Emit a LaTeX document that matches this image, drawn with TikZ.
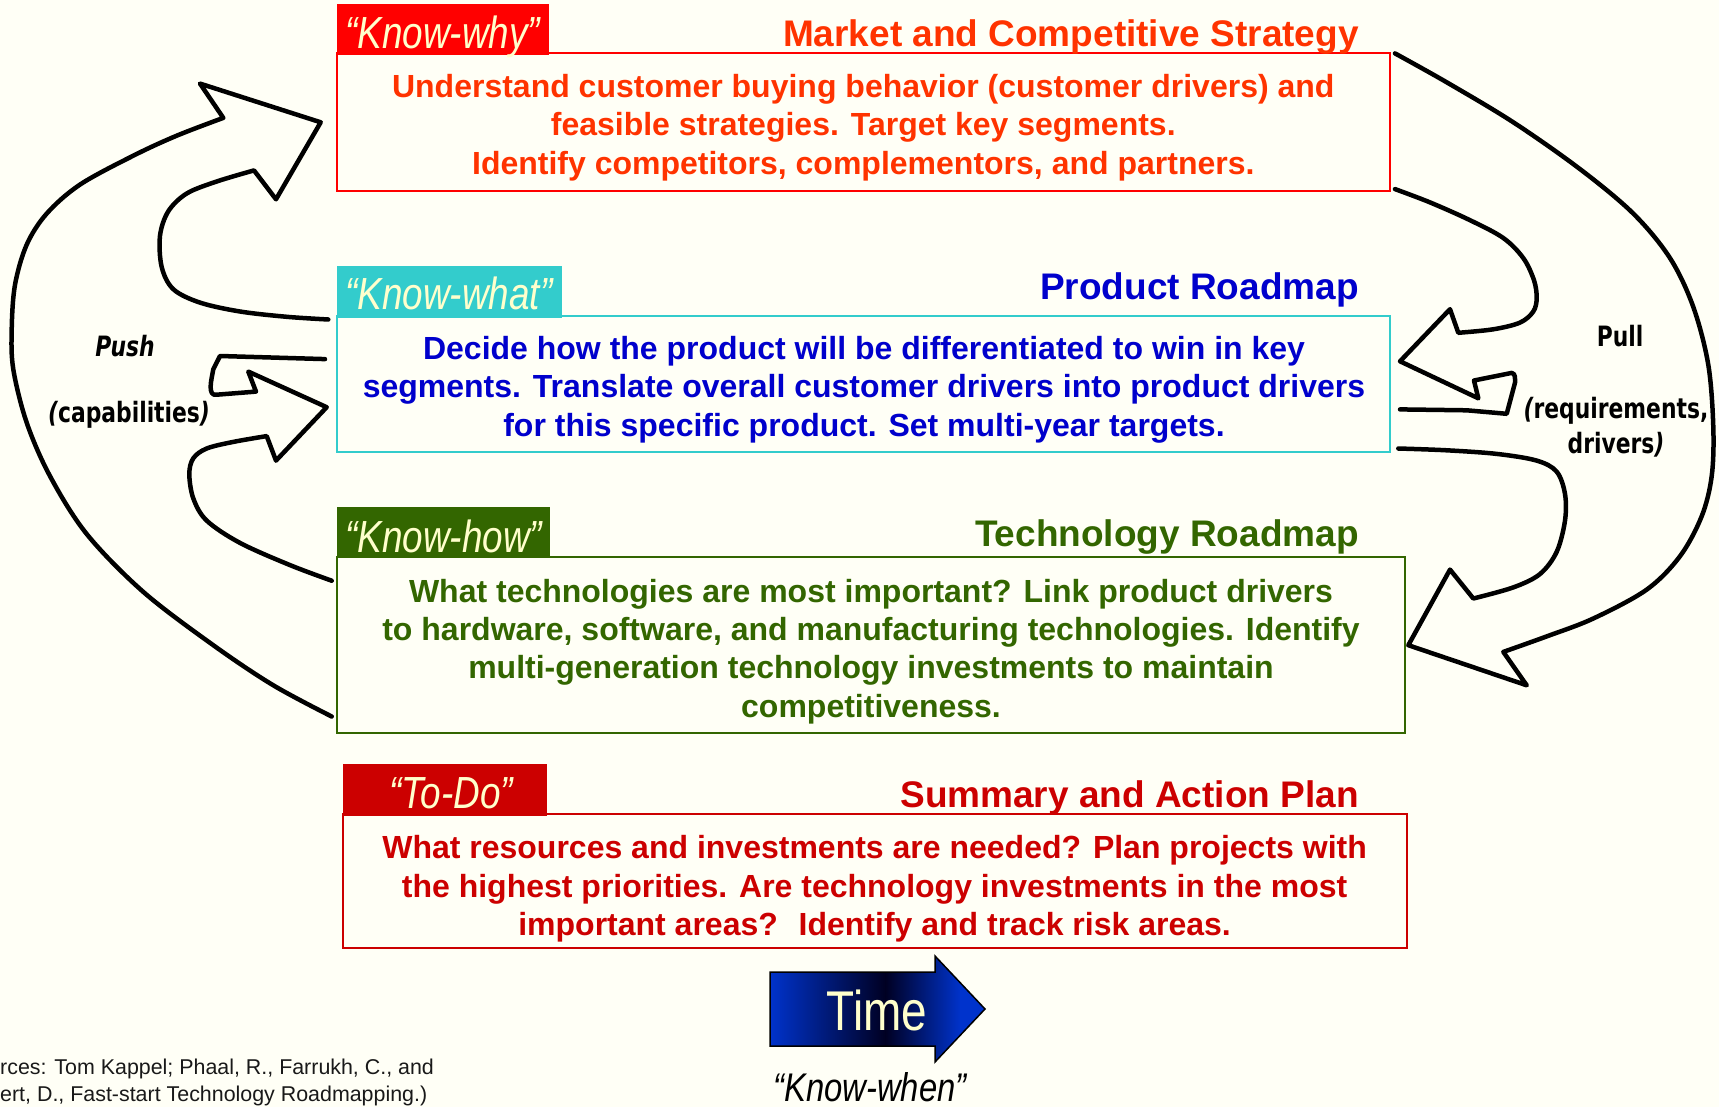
\documentclass[tikz,border=0pt]{standalone}
\usepackage{fontspec}
\setmainfont{Liberation Sans}
\newfontfamily\narrowfont[FakeStretch=0.82]{Liberation Sans}
\newfontfamily\tagfont[FakeStretch=0.78]{DejaVu Sans}

\definecolor{paper}{HTML}{FFFFF6}
\definecolor{whyred}{HTML}{FF0000}
\definecolor{whytext}{HTML}{FF3300}
\definecolor{whatcyan}{HTML}{33CCCC}
\definecolor{whatblue}{HTML}{0000CC}
\definecolor{howgreen}{HTML}{336600}
\definecolor{todored}{HTML}{CC0000}
\definecolor{tabtext}{HTML}{FFFFCC}
\definecolor{timeblue}{HTML}{0033CC}
\definecolor{timedark}{HTML}{000022}

\begin{document}
\begin{tikzpicture}[x=1pt,y=-1pt,
  panel/.style={draw, line width=2pt, inner sep=0pt, outer sep=0pt},
  tabbox/.style={draw=none, inner sep=0pt, outer sep=0pt, anchor=north west},
  tabtxt/.style={anchor=base west, inner sep=0pt, text=tabtext,
    font=\narrowfont\itshape\fontsize{45}{54}\selectfont},
  titletxt/.style={anchor=base east, inner sep=0pt,
    font=\fontsize{37}{44}\selectfont\bfseries},
  bodytxt/.style={anchor=base, inner sep=0pt,
    font=\fontsize{32}{38}\selectfont\bfseries},
  sidetxt/.style={anchor=base, inner sep=0pt,
    font=\tagfont\bfseries\fontsize{28}{32}\selectfont},
  srctxt/.style={anchor=base west, inner sep=0pt, text=black!90,
    font=\fontsize{21.4}{26}\selectfont},
  blockarrow/.style={draw=black, line width=4.5pt, line join=round, line cap=round}
]
% page
\fill[paper] (0,0) rectangle (1719,1107);
\useasboundingbox (0,0) rectangle (1719,1107);

% ---------- panels ----------
\node[panel, draw=whyred, minimum width=1053.3pt, minimum height=137.4pt] (why) at (863.35,122) {};
\node[panel, draw=whatcyan, minimum width=1053.3pt, minimum height=136pt] (what) at (863.35,383.7) {};
\node[panel, draw=howgreen, minimum width=1068.7pt, minimum height=175.4pt] (how) at (871.05,645) {};
\node[panel, draw=todored, minimum width=1063.9pt, minimum height=134.3pt] (todo) at (874.65,881.2) {};

% ---------- tabs ----------
\node[tabbox, fill=whyred, minimum width=212pt, minimum height=51pt] (whytab) at (336.6,4) {};
\node[tabbox, fill=whatcyan, minimum width=225pt, minimum height=51.7pt] (whattab) at (337,266) {};
\node[tabbox, fill=howgreen, minimum width=212.6pt, minimum height=49.3pt] (howtab) at (337,506.7) {};
\node[tabbox, fill=todored, minimum width=204pt, minimum height=52pt] (todotab) at (343,764) {};

\node[tabtxt] (whytabtxt) at (345,48.5) {“Know-why”};
\node[tabtxt] (whattabtxt) at (345,309.5) {“Know-what”};
\node[tabtxt] (howtabtxt) at (345,552.5) {“Know-how”};
\node[tabtxt, anchor=base] (todotabtxt) at (451,808) {“To-Do”};

% ---------- titles ----------
\node[titletxt, text=whytext] (whytitle) at (1359,47) {Market and Competitive Strategy};
\node[titletxt, text=whatblue] (whattitle) at (1359,299.5) {Product Roadmap};
\node[titletxt, text=howgreen] (howtitle) at (1359,546.5) {Technology Roadmap};
\node[titletxt, text=todored] (todotitle) at (1359,807.5) {Summary and Action Plan};

% ---------- panel texts ----------
\node[bodytxt, text=whytext] (why1) at (863.3,97.2) {Understand customer buying behavior (customer drivers) and};
\node[bodytxt, text=whytext] (why2) at (863.3,135.7) {feasible strategies. Target key segments.};
\node[bodytxt, text=whytext] (why3) at (863.3,174.2) {Identify competitors, complementors, and partners.};

\node[bodytxt, text=whatblue] (what1) at (864,359.2) {Decide how the product will be differentiated to win in key};
\node[bodytxt, text=whatblue] (what2) at (864,397.6) {segments. Translate overall customer drivers into product drivers};
\node[bodytxt, text=whatblue] (what3) at (864,436) {for this specific product. Set multi-year targets.};

\node[bodytxt, text=howgreen] (how1) at (871,602.2) {What technologies are most important? Link product drivers};
\node[bodytxt, text=howgreen] (how2) at (871,640.5) {to hardware, software, and manufacturing technologies. Identify};
\node[bodytxt, text=howgreen] (how3) at (871,678.9) {multi-generation technology investments to maintain};
\node[bodytxt, text=howgreen] (how4) at (871,717.2) {competitiveness.};

\node[bodytxt, text=todored] (todo1) at (874.6,858.9) {What resources and investments are needed? Plan projects with};
\node[bodytxt, text=todored] (todo2) at (874.6,897.2) {the highest priorities. Are technology investments in the most};
\node[bodytxt, text=todored] (todo3) at (874.6,935.5) {important areas?~ Identify and track risk areas.};

% ---------- push arrows (left) ----------
\draw[blockarrow]
  plot[smooth, tension=0.55] coordinates {(331.7,716.5) (273.3,685.3) (213.3,645.2) (143.3,591.9)
    (86.7,534) (50,476.1) (26.7,422.7) (13.3,369.3) (11.7,329.3) (15,284.8) (26.7,244.7)
    (46.7,213.6) (80,184.6) (133.3,155.7) (176.7,135.7) (223.3,117.9)}
  -- (200,83.6) -- (320.7,122.3) -- (276,199.3) -- (254,170.4)
  -- plot[smooth, tension=0.55] coordinates {(254,170.4) (216.7,181.5) (186.7,193.5) (168.3,211.3)
    (160,235.8) (161.7,267) (173.3,289.2) (200,302.6) (240,311.5) (286.7,316.8) (328.3,319.5)};

\draw[blockarrow]
  plot[smooth, tension=0.55] coordinates {(331.7,580.7) (290,565.1) (240,542.9) (206.7,520.6)
    (193.3,498.4) (189.3,473.9) (193.3,458.3) (206.7,448.5) (233.3,441.9) (266.7,436.1)}
  -- (276,460.6) -- (326.7,407.2) -- (248.3,371.6) -- (256,391.6)
  -- (216.7,394.7) to[out=190,in=260] (213.3,369.3) -- (220,356) -- (325,359.1);

% ---------- pull arrows (right) ----------
\draw[blockarrow]
  plot[smooth, tension=0.55] coordinates {(1395,53.4) (1446.7,82.3) (1513.3,122.3) (1580,169.1)
    (1633.3,213.6) (1670,258.1) (1693.3,307) (1708.3,364.9) (1713.3,427.2) (1711.7,476.1)
    (1701.7,516.2) (1680,556.2) (1646.7,589.6) (1593.3,618.5) (1546.7,636.4) (1503.3,651.9)}
  -- (1526.7,685.3) -- (1408.3,645.2) -- (1450,569.6) -- (1473.3,598.5)
  -- plot[smooth, tension=0.55] coordinates {(1473.3,598.5) (1513.3,587.4) (1540,574) (1556.7,551.8)
    (1565,520.6) (1565,494) (1556.7,471.7) (1536.7,460.6) (1496.7,453.9) (1446.7,450.3) (1398.3,448.5)};

\draw[blockarrow]
  plot[smooth, tension=0.55] coordinates {(1395,189.1) (1430,202.4) (1470,220.2) (1503.3,238)
    (1523.3,258.1) (1534,280.3) (1536.7,298.1) (1533.3,311.5) (1520,322.6) (1493.3,329.3) (1458.3,332.8)}
  -- (1450,309.2) -- (1400,361.3) -- (1478.3,398.3) -- (1474,380.5)
  -- (1511.7,372.9) to[out=-10,in=90] (1515,382.7) -- (1506.7,413.8) -- (1466.7,410.3) -- (1400,409.4);

% ---------- side labels ----------
\node[sidetxt] (push) at (125,356) {\itshape Push};
\node[sidetxt] (pushsub) at (129,422.5) {{\itshape(}capabilities{\itshape)}};
\node[sidetxt] (pull) at (1620,346.5) {Pull};
\node[sidetxt] (pullsub1) at (1616,418.5) {{\itshape(}requirements,};
\node[sidetxt] (pullsub2) at (1616,453.5) {drivers{\itshape)}};

% ---------- time arrow ----------
\coordinate (ta) at (770,972);
\coordinate (tb) at (935,972);
\coordinate (tc) at (935,956);
\coordinate (td) at (985,1009);
\coordinate (te) at (935,1062);
\coordinate (tf) at (935,1046);
\coordinate (tg) at (770,1046);
\begin{scope}
  \clip (ta) -- (tb) -- (tc) -- (td) -- (te) -- (tf) -- (tg) -- cycle;
  \fill[left color=timeblue, right color=timedark] (769,950) rectangle (886,1070);
  \fill[left color=timedark, right color=timeblue] (885,950) rectangle (961,1070);
  \fill[timeblue] (960,950) rectangle (990,1070);
\end{scope}
\draw[line width=1.5pt, line join=miter] (ta) -- (tb) -- (tc) -- (td) -- (te) -- (tf) -- (tg) -- cycle;
\node[anchor=base, inner sep=0pt, text=tabtext, font=\narrowfont\fontsize{56}{62}\selectfont] (time) at (877,1030) {Time};
\node[anchor=base, inner sep=0pt, font=\narrowfont\itshape\fontsize{40}{46}\selectfont] (when) at (870,1101) {“Know-when”};

% ---------- sources ----------
\node[srctxt] (src1) at (0,1074.5) {rces: Tom Kappel; Phaal, R., Farrukh, C., and};
\node[srctxt] (src2) at (0,1101) {ert, D., Fast-start Technology Roadmapping.)};
\end{tikzpicture}
\end{document}
